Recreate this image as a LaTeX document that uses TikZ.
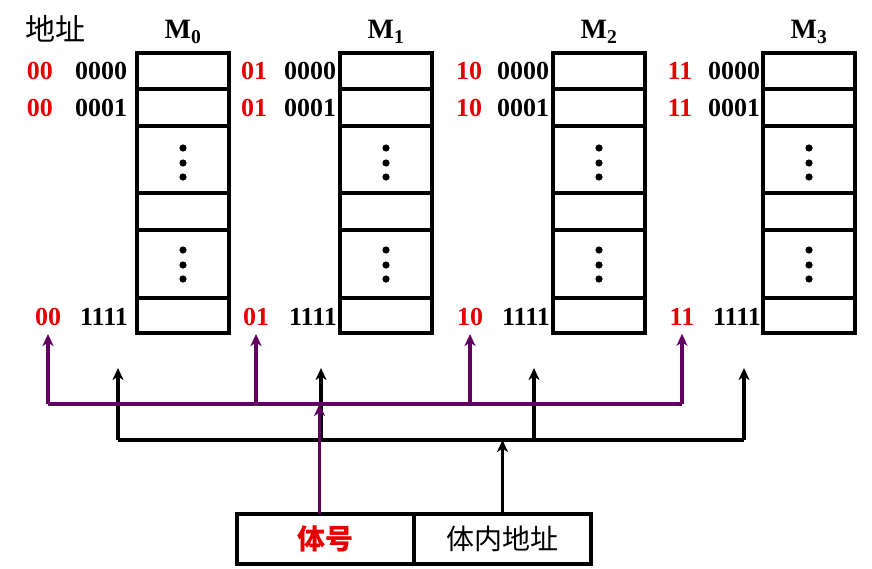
\documentclass[tikz,border=0pt]{standalone}
\usepackage{fontspec}
\setmainfont{Liberation Serif}
\newfontfamily\cjk{Noto Sans CJK SC}
\usetikzlibrary{arrows.meta}
\definecolor{addrred}{RGB}{230,0,0}
\definecolor{buspurple}{RGB}{96,0,96}
\tikzset{
	cell/.style={draw, line width=3.4pt, outer sep=0pt},
	num/.style={font=\fontsize{26}{26}\selectfont\bfseries, inner sep=0pt},
	banknum/.style={num, text=addrred},
	up/.style={line width=3.2pt, -{Stealth[length=12pt,width=11pt,inset=3.5pt]}},
}

\begin{document}
\begin{tikzpicture}[x=1pt,y=-1pt]
	\useasboundingbox (0,0) rectangle (872,568);
	\coordinate (pbus) at (0,404);
	\coordinate (kbus) at (0,440);
	\node[font=\cjk\fontsize{30}{30}\selectfont, inner sep=0pt] (addr) at (55,29) {地址};
	\foreach \x/\i/\rt/\rb/\b/\n in {137/0/40/48/101/00,340/1/254/256/310/01,553/2/469/470/523/10,763/3/680/682/734/11} {
		\draw[cell] (\x,53) rectangle (\x+92,333);
		\foreach \y in {89,126,193,230,298}
			\draw[cell] (\x,\y) -- (\x+92,\y);
		\foreach \y in {148,163,177,250,265,279}
			\fill (\x+46,\y) circle (3.6pt);
		\node[font=\fontsize{28}{28}\selectfont\bfseries, inner sep=0pt] (m\i) at (\x+46,32) {M\textsubscript{\i}};
		\node[banknum] (ra\i) at (\rt,71) {\n};
		\node[banknum] (rb\i) at (\rt,108) {\n};
		\node[banknum] (rc\i) at (\rb,317) {\n};
		\node[num] (la\i) at (\b,71) {0000};
		\node[num] (lb\i) at (\b,108) {0001};
		\node[num] (lc\i) at (\b+3,317) {1111};
		\coordinate (pj\i) at (rc\i.south |- pbus);
		\coordinate (kt\i) at (\x-19,368);
		\coordinate (kj\i) at (kt\i |- kbus);
		\draw[up, buspurple, shorten >=8pt] (pj\i) -- (rc\i.south);
		\draw[up] (kj\i) -- (kt\i);
	}
	\draw[buspurple, line width=3.2pt] (pj0) -- (pj3);
	\draw[line width=3.2pt] (kj0) -- (kj3);
	% address register
	\node[cell, minimum width=177pt, minimum height=50pt, text=addrred, font=\cjk\bfseries\fontsize{28}{28}\selectfont] (hao) at (325.5,539) {体号};
	\node[cell, minimum width=177pt, minimum height=50pt, font=\cjk\fontsize{28}{28}\selectfont, anchor=west] (neidi) at (hao.east) {体内地址};
	\coordinate (hs) at ([xshift=-6pt]hao.north);
	\draw[up] (neidi.north) -- (neidi.north |- kbus);
	\draw[up, buspurple] (hs) -- (hs |- pbus);
\end{tikzpicture}
\end{document}
